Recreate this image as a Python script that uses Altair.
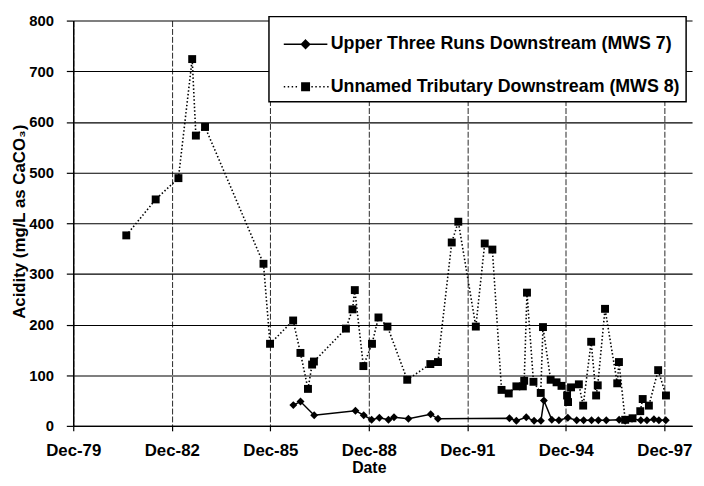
import altair as alt
import pandas as pd

S7 = "Upper Three Runs Downstream (MWS 7)"
S8 = "Unnamed Tributary Downstream (MWS 8)"

mws8_dates = [
    "1981-07-13", "1982-06-05", "1983-02-13", "1983-07-16", "1983-08-26", "1983-12-06",
    "1985-09-16", "1985-11-28", "1986-08-12", "1986-11-01", "1987-01-24", "1987-03-11",
    "1987-03-31", "1988-03-21", "1988-06-02", "1988-06-28", "1988-10-01", "1989-01-05",
    "1989-03-18", "1989-06-26", "1990-02-01", "1990-10-16", "1991-01-09", "1991-06-11",
    "1991-08-23", "1992-03-05", "1992-06-12", "1992-09-05", "1992-12-16", "1993-03-06",
    "1993-05-30", "1993-08-10", "1993-08-25", "1993-09-25", "1993-12-06", "1994-02-25",
    "1994-03-22", "1994-06-15", "1994-08-20", "1994-10-14", "1994-12-15", "1994-12-26",
    "1995-01-28", "1995-04-25", "1995-06-12", "1995-09-09", "1995-11-03", "1995-11-21",
    "1996-02-10", "1996-06-25", "1996-07-14", "1996-09-21", "1996-12-12", "1997-03-08",
    "1997-04-04", "1997-06-12", "1997-09-23", "1997-12-19",
]
mws8_values = [
    376, 447, 489, 724, 573, 590,
    320, 162, 208, 144, 73, 121,
    127, 192, 230, 268, 118, 162,
    214, 196, 91, 122, 126, 362,
    403, 196, 360, 348, 71, 64,
    78, 78, 89, 263, 87, 65,
    195, 91, 86, 79, 60, 47,
    76, 82, 40, 166, 60, 80,
    231, 84, 126, 12, 15, 29,
    53, 40, 110, 60,
]

mws7_dates = [
    "1986-08-14", "1986-11-02", "1987-04-03", "1988-07-05", "1988-10-05", "1989-01-01",
    "1989-03-28", "1989-07-07", "1989-09-07", "1990-02-14", "1990-10-20", "1991-01-09",
    "1993-03-14", "1993-05-30", "1993-09-17", "1993-12-13", "1994-02-27", "1994-04-01",
    "1994-06-28", "1994-09-15", "1994-12-23", "1995-04-01", "1995-06-17", "1995-09-13",
    "1995-11-28", "1996-02-24", "1996-07-16", "1996-09-21", "1996-12-06", "1997-03-14",
    "1997-05-21", "1997-08-07", "1997-10-01", "1997-12-17",
]
mws7_values = [
    41, 48, 21, 30, 21, 12,
    16, 12, 17, 14, 23, 14,
    15, 10, 17, 10, 10, 50,
    12, 11, 16, 11, 11, 11,
    11, 11, 12, 10, 14, 11,
    11, 13, 11, 11,
]

tick_years = [1979, 1982, 1985, 1988, 1991, 1994, 1997]
y_ticks = [0, 100, 200, 300, 400, 500, 600, 700, 800]
series_names = [S7, S8]

df = pd.concat([
    pd.DataFrame({"date": mws7_dates, "value": mws7_values, "series": S7}),
    pd.DataFrame({"date": mws8_dates, "value": mws8_values, "series": S8}),
], ignore_index=True)

FONT = "Liberation Sans"

# Legend symbols: connecting line + marker as custom SVG paths
# (units are sqrt(symbolSize)/2; markers drawn as nested outlines so they look solid)
L0, L1, C = -0.62, 1.48, 0.43

def dotted(x0, x1, step, length, skip_lo, skip_hi):
    parts = []
    x = x0
    while x < x1:
        if x + length < skip_lo or x > skip_hi:
            parts.append(f"M{x:.3f},0h{length}")
        x += step
    return "".join(parts)

def diamond(c, radii):
    return "".join(f"M{c:.3f},{-r:.3f}L{c + r:.3f},0L{c:.3f},{r:.3f}L{c - r:.3f},0Z" for r in radii)

def square(c, halves):
    return "".join(f"M{c - h:.3f},{-h:.3f}H{c + h:.3f}V{h:.3f}H{c - h:.3f}Z" for h in halves)

path7 = f"M{L0},0L{L1},0" + diamond(C, [0.2, 0.14, 0.08, 0.03])
path8 = dotted(L0, L1, 0.19, 0.07, C - 0.24, C + 0.22) + square(C, [0.18, 0.12, 0.06, 0.015])

x_enc = alt.X(
    "date:T",
    scale=alt.Scale(
        type="utc",
        domain=[alt.DateTime(year=1979, month=12, date=1, utc=True),
                alt.DateTime(year=1998, month=10, date=5, utc=True)],
    ),
    axis=alt.Axis(
        values=[alt.DateTime(year=y, month=12, date=1, utc=True) for y in tick_years],
        format="%b-%y",
        title="Date",
        labelFont=FONT, labelFontSize=17, labelFontWeight="bold", labelColor="black",
        labelPadding=12, labelFlush=False,
        tickSize=5, tickColor="black", tickWidth=1.2,
        domainColor="black", domainWidth=1.5,
        grid=True, gridColor="black", gridDash=[6, 2], gridWidth=1, gridOpacity=0.85,
        titleFont=FONT, titleFontSize=16, titleFontWeight="bold", titleColor="black",
        titleX=299, titleY=42, titleBaseline="middle", titleAlign="center",
    ),
)
y_enc = alt.Y(
    "value:Q",
    scale=alt.Scale(domain=[0, 800], nice=False),
    axis=alt.Axis(
        values=y_ticks,
        title="Acidity (mg/L as CaCO₃)",
        labelFont=FONT, labelFontSize=15, labelFontWeight="bold", labelColor="black",
        labelPadding=13,
        tickSize=7, tickColor="black", tickWidth=1.2,
        domainColor="black", domainWidth=1.5,
        grid=True, gridColor="black", gridWidth=1.1,
        titleFont=FONT, titleFontSize=17, titleFontWeight="bold", titleColor="black",
        titleX=-54, titleY=203, titleBaseline="middle", titleAlign="center",
    ),
)

base = alt.Chart(df)

line7 = base.transform_filter(alt.datum.series == S7).mark_line(
    color="black", strokeWidth=1.5).encode(x=x_enc, y=y_enc)
line8 = base.transform_filter(alt.datum.series == S8).mark_line(
    color="black", strokeWidth=1.6, strokeDash=[1.5, 2.2]).encode(x=x_enc, y=y_enc)
pts7 = base.transform_filter(alt.datum.series == S7).mark_point(
    shape="diamond", filled=True, color="black", size=64, opacity=1).encode(x=x_enc, y=y_enc)
pts8 = base.transform_filter(alt.datum.series == S8).mark_point(
    shape="square", filled=True, color="black", size=64, opacity=1).encode(x=x_enc, y=y_enc)

legend_layer = base.transform_filter("datum.value < 0").mark_point(
    filled=False, color="black", strokeWidth=1.5, opacity=1
).encode(
    x=x_enc, y=y_enc,
    shape=alt.Shape(
        "series:N",
        scale=alt.Scale(domain=series_names, range=[path7, path8]),
        legend=alt.Legend(
            orient="none", legendX=198, legendY=-4, title=None,
            symbolSize=1764, symbolStrokeWidth=1.5,
            symbolStrokeColor="black",
            labelFont=FONT, labelFontSize=18, labelFontWeight="bold", labelColor="black",
            labelOffset=12.5, labelLimit=800,
            padding=6, rowPadding=12,
            strokeColor="black", fillColor="white",
        ),
    ),
)

chart = alt.layer(line8, line7, pts8, pts7, legend_layer).properties(
    width=626, height=410,
    autosize=alt.AutoSizeParams(type="none"),
    padding={"left": 66, "top": 10, "right": 4, "bottom": 50},
    background="white",
).configure_view(strokeWidth=0).configure_legend(strokeWidth=1.5)

chart.save("out.html", embed_options={"renderer": "svg", "actions": False})
